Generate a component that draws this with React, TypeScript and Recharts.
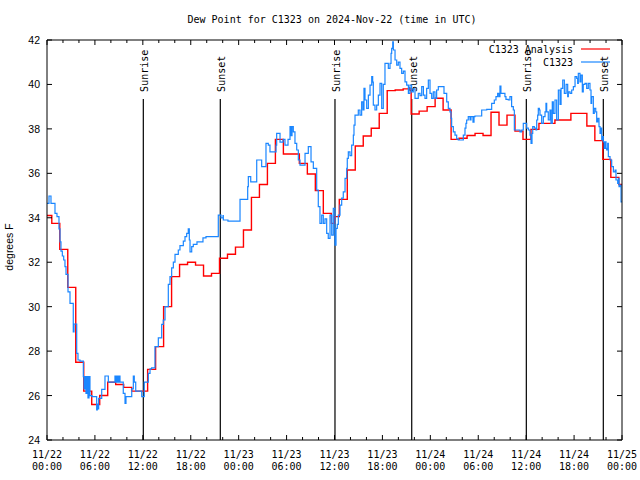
import React from 'react';
import { LineChart, Line, XAxis, YAxis, ReferenceLine } from 'recharts';

const MONO = '"DejaVu Sans Mono", monospace';
const SANS = '"Liberation Sans", Arial, sans-serif';

const titleText = 'Dew Point for C1323 on 2024-Nov-22 (time in UTC)';
const yLabel = 'degrees F';
const seriesNames = ['C1323 Analysis', 'C1323'];
const seriesColors = ['#ff0000', '#1a86ff'];

const yTicks = [24, 26, 28, 30, 32, 34, 36, 38, 40, 42];
const xTicks = [0, 2, 4, 6, 8, 10, 12, 14, 16, 18, 20, 22, 24, 26, 28, 30, 32, 34, 36, 38, 40, 42, 44, 46, 48, 50, 52, 54, 56, 58, 60, 62, 64, 66, 68, 70, 72];
const majorHours = [0, 6, 12, 18, 24, 30, 36, 42, 48, 54, 60, 66, 72];
const tickDates = ['11/22', '11/22', '11/22', '11/22', '11/23', '11/23', '11/23', '11/23', '11/24', '11/24', '11/24', '11/24', '11/25'];
const tickTimes = ['00:00', '06:00', '12:00', '18:00', '00:00', '06:00', '12:00', '18:00', '00:00', '06:00', '12:00', '18:00', '00:00'];

const sunHours = [12.06, 21.7, 36.06, 45.67, 60.02, 69.66];
const sunLabels = ['Sunrise', 'Sunset', 'Sunrise', 'Sunset', 'Sunrise', 'Sunset'];
const sunLineTop = 39.35;

// hourly analysis (step) values: [hour since 11/22 00:00, degF]
const analysis = [
  [0, 34.1], [0.6, 33.75], [1.6, 32.58], [2.6, 30.87], [3.6, 27.5], [4.6, 26.2], [5.6, 25.6], [6.6, 26.0],
  [7.6, 26.6], [8.6, 26.5], [9.6, 26.37], [10.6, 26.2], [12.6, 27.18], [13.6, 28.2], [14.6, 30.0], [15.6, 31.35],
  [16.6, 31.9], [17.6, 32.0], [18.6, 31.87], [19.6, 31.38], [20.6, 31.5], [21.6, 32.18], [22.6, 32.36], [23.6, 32.68],
  [24.6, 33.45], [25.6, 34.92], [26.6, 35.5], [27.6, 36.45], [28.6, 37.53], [29.6, 36.87], [31.6, 36.45], [32.6, 35.97],
  [33.6, 35.22], [34.6, 34.2], [35.6, 33.75], [36.0, 34.05], [36.6, 34.83], [37.6, 36.15], [38.6, 37.23], [39.6, 37.68],
  [40.6, 38.03], [41.6, 38.7], [42.6, 39.72], [43.6, 39.75], [44.6, 39.8], [45.6, 38.67], [46.6, 38.8], [47.6, 39.0],
  [48.6, 39.38], [49.6, 38.85], [50.6, 37.53], [51.6, 37.58], [52.6, 37.7], [53.6, 37.8], [54.6, 37.7], [55.6, 38.75],
  [56.6, 38.17], [57.6, 38.62], [58.6, 37.9], [59.6, 37.53], [60.6, 37.98], [61.6, 38.25], [63.6, 38.4], [65.6, 38.7],
  [67.6, 38.13], [68.6, 37.47], [69.6, 36.63], [70.6, 35.82], [71.6, 35.5], [72, 35.5],
];

// station observations
const obsDay1 = [
  [0, 34.65], [0.25, 34.98], [0.5, 34.65], [1.0, 34.2], [1.25, 34.05], [1.5, 33.5], [1.63, 32.92], [1.75, 32.5],
  [1.92, 32.28], [2.09, 32.1], [2.25, 31.8], [2.38, 31.45], [2.63, 30.67], [2.88, 30.15], [3.29, 28.87], [3.38, 29.22],
  [3.72, 27.9], [3.88, 27.6], [4.13, 27.55], [4.55, 26.85], [4.63, 26.3], [4.76, 26.85], [4.88, 26.1], [5.01, 26.85],
  [5.13, 25.9], [5.26, 26.85], [5.38, 26.0], [5.63, 25.95], [6.22, 25.35], [6.3, 25.6], [6.39, 25.4], [6.47, 25.87],
  [6.85, 26.28], [7.26, 26.88], [7.68, 26.6], [8.51, 26.88], [8.64, 26.6], [8.76, 26.88], [8.89, 26.6], [9.02, 26.88],
  [9.14, 26.6], [9.55, 26.1], [9.77, 25.65], [9.89, 25.95], [10.61, 26.3], [10.81, 26.88], [10.93, 26.6], [11.11, 26.2],
  [11.86, 25.95], [12.18, 26.6], [12.69, 27.0], [12.9, 27.2], [13.1, 27.25], [13.52, 28.2], [13.94, 28.6], [14.36, 29.2],
  [14.56, 29.4], [14.78, 30.0], [15.19, 31.0], [15.4, 31.35], [15.61, 31.75], [15.82, 32.0], [16.03, 32.35], [16.44, 32.55],
  [16.65, 32.75], [17.07, 32.95], [17.28, 33.15], [17.49, 33.3], [17.69, 33.5], [17.82, 33.0], [17.91, 32.47], [18.12, 32.7],
  [18.32, 32.8], [18.78, 32.92], [19.53, 33.1], [19.91, 33.15], [21.45, 34.12], [21.79, 34.0], [22.04, 34.1], [22.08, 33.9],
  [22.66, 33.85],
];
const obsDay2 = [
  [24.17, 34.83], [25.13, 35.4], [25.21, 35.85], [25.51, 35.62], [26.26, 36.6], [26.88, 36.3], [27.42, 37.35], [27.71, 37.27],
  [27.92, 36.97], [28.68, 37.27], [28.76, 37.8], [29.18, 37.4], [29.55, 37.53], [29.8, 37.27], [30.18, 37.53], [30.43, 38.1],
  [30.55, 37.7], [30.68, 38.1], [30.84, 37.87], [31.05, 37.35], [31.27, 37.05], [31.47, 36.6], [31.68, 36.37], [32.31, 36.9],
  [32.72, 37.2], [33.06, 36.52], [33.35, 36.22], [33.77, 35.25], [33.97, 34.5], [34.18, 33.75], [34.4, 34.12], [34.6, 33.75],
  [34.81, 33.95], [35.02, 33.3], [35.22, 33.07], [35.44, 34.12], [35.65, 33.22], [35.85, 34.42], [36.06, 32.77], [36.19, 33.52],
  [36.35, 33.7], [36.48, 34.12], [36.69, 34.57], [36.9, 34.88], [37.1, 35.17], [37.32, 35.77], [37.53, 36.22], [37.6, 36.67],
  [37.73, 36.97], [37.94, 36.8], [38.15, 37.27], [38.36, 37.72], [38.44, 38.17], [38.57, 38.62], [38.98, 38.85], [39.19, 38.62],
  [39.4, 39.22], [39.57, 38.85], [39.69, 39.82], [39.82, 39.3], [40.03, 38.92], [40.24, 39.52], [40.45, 39.97], [40.66, 40.35],
  [40.78, 40.1], [40.86, 39.07], [41.07, 38.85], [41.28, 39.07], [41.49, 39.52], [41.7, 40.05], [41.91, 38.92], [42.11, 40.0],
  [42.32, 40.95], [42.74, 40.72], [42.95, 40.95], [43.08, 41.4], [43.16, 41.62], [43.29, 41.92], [43.37, 41.55], [43.58, 41.1],
  [43.79, 40.87], [43.99, 41.0], [44.2, 40.72], [44.41, 40.5], [44.62, 40.6], [44.83, 40.12], [45.04, 39.97], [45.25, 39.6],
  [45.45, 39.97], [45.66, 39.67], [45.87, 39.8], [46.08, 39.37], [46.49, 39.6], [46.71, 39.5], [46.92, 39.9], [47.13, 39.52],
  [47.33, 39.37], [47.54, 39.82], [47.75, 40.2], [47.96, 39.6],
];
const obsDay3 = [
  [48.17, 39.37], [48.37, 39.67], [48.58, 39.37], [48.79, 39.75], [49.0, 39.9], [49.71, 39.6], [50.05, 39.22], [50.25, 38.92],
  [50.46, 38.77], [50.59, 38.47], [50.67, 38.1], [50.88, 37.87], [51.09, 37.72], [51.3, 37.55], [51.5, 37.5], [52.13, 37.72],
  [52.34, 38.03], [52.46, 38.25], [52.55, 38.4], [52.75, 38.55], [52.97, 38.4], [53.09, 38.55], [53.34, 38.3], [53.47, 38.55],
  [53.59, 38.58], [54.43, 38.85], [55.06, 38.88], [55.68, 39.15], [56.01, 39.3], [56.22, 39.45], [56.43, 39.6], [56.59, 39.45],
  [56.72, 39.93], [56.84, 39.6], [57.34, 39.45], [57.47, 39.33], [57.76, 39.3], [57.97, 39.45], [58.18, 39.0], [58.39, 38.85],
  [58.52, 37.95], [59.23, 37.87], [59.44, 37.95], [59.64, 38.25], [60.07, 38.03], [60.27, 37.95], [60.48, 37.72], [60.61, 37.35],
  [60.73, 37.8], [60.82, 38.1], [61.02, 38.03], [61.23, 37.95], [61.32, 38.4], [61.44, 38.62], [61.52, 38.92], [61.65, 38.85],
  [61.73, 38.62], [61.94, 38.25], [62.15, 38.55], [62.36, 38.77], [62.48, 39.15], [62.57, 38.77], [62.77, 38.4], [62.98, 38.85],
  [63.11, 38.25], [63.27, 39.22], [63.4, 38.7], [63.61, 39.3], [63.82, 38.4], [64.03, 39.75], [64.24, 39.1], [64.37, 39.82],
  [64.58, 40.2], [64.78, 39.6], [65.0, 40.0], [65.2, 39.45], [65.28, 39.67], [65.49, 39.6], [65.7, 39.75], [65.91, 39.9],
  [66.12, 40.35], [66.33, 40.27], [66.45, 40.05], [66.53, 40.5], [66.74, 40.12], [66.86, 40.42], [67.03, 39.67], [67.15, 40.0],
  [67.37, 40.05], [67.58, 39.82], [67.78, 40.05], [67.99, 39.75], [68.12, 39.15], [68.2, 39.45], [68.41, 38.7], [68.53, 38.92],
  [68.71, 38.77], [68.83, 38.32], [68.96, 38.47], [69.12, 38.1], [69.25, 37.8], [69.37, 38.03], [69.46, 37.5], [69.58, 37.65],
  [69.66, 37.42], [69.78, 37.12], [69.87, 37.42], [70.0, 37.12], [70.08, 37.05], [70.21, 37.35], [70.29, 36.75], [70.5, 36.6],
  [70.71, 36.3], [70.92, 36.07], [71.13, 36.15], [71.25, 35.7], [71.46, 35.55], [71.54, 35.77], [71.63, 35.4], [71.76, 35.47],
  [71.88, 34.72], [72.0, 34.72],
];

const analysisData = analysis.map(([t, v]) => ({ t, v }));
const obsData = [...obsDay1, ...obsDay2, ...obsDay3].map(([t, v]) => ({ t, v }));

const BottomTick = (props: any) => {
  const { x, y, payload } = props;
  const i = majorHours.indexOf(payload.value);
  const major = i >= 0;
  return (
    <g>
      <line x1={x} x2={x} y1={y} y2={y - (major ? 5 : 3)} stroke="#000" strokeWidth={1} />
      {major && (
        <text x={x} y={y + 18} textAnchor="middle" fontFamily={MONO} fontSize={10} fill="#000">{tickDates[i]}</text>
      )}
      {major && (
        <text x={x} y={y + 30} textAnchor="middle" fontFamily={MONO} fontSize={10} fill="#000">{tickTimes[i]}</text>
      )}
    </g>
  );
};

const TopTick = (props: any) => {
  const { x, y, payload } = props;
  const major = majorHours.indexOf(payload.value) >= 0;
  return <line x1={x} x2={x} y1={y} y2={y + (major ? 5 : 3)} stroke="#000" strokeWidth={1} />;
};

const LeftTick = (props: any) => {
  const { x, y, payload } = props;
  return (
    <g>
      <line x1={x} x2={x + 5} y1={y} y2={y} stroke="#000" strokeWidth={1} />
      <text x={x - 7} y={y + 4} textAnchor="end" fontFamily={SANS} fontSize={10.5} fill="#000">{payload.value}</text>
    </g>
  );
};

const RightTick = (props: any) => {
  const { x, y } = props;
  return <line x1={x} x2={x - 5} y1={y} y2={y} stroke="#000" strokeWidth={1} />;
};

const makeSunShape = (label: string) => (p: any) => {
  const { x1, y1, x2, y2 } = p;
  const top = Math.min(y1, y2);
  return (
    <g>
      <line x1={x1} y1={y1} x2={x2} y2={y2} stroke="#000" strokeWidth={1.2} />
      <text
        transform={`translate(${x1 + 5},${top - 7}) rotate(-90)`}
        textAnchor="start"
        fontFamily={MONO}
        fontSize={10}
        fill="#000"
      >
        {label}
      </text>
    </g>
  );
};

export default function App() {
  return (
    <div style={{ position: 'absolute', left: 0, top: 0, width: 640, height: 480, background: '#fff' }}>
      <LineChart width={640} height={480} margin={{ top: 20, right: 8, bottom: 0, left: 7 }}>
        <XAxis
          xAxisId="b"
          dataKey="t"
          type="number"
          domain={[0, 72]}
          ticks={xTicks}
          interval={0}
          allowDataOverflow
          height={40}
          tickSize={0}
          tickMargin={0}
          tickLine={false}
          axisLine={{ stroke: '#000', strokeWidth: 1 }}
          tick={<BottomTick />}
          orientation="bottom"
        />
        <XAxis
          xAxisId="top"
          dataKey="t"
          type="number"
          domain={[0, 72]}
          ticks={xTicks}
          interval={0}
          allowDataOverflow
          height={20}
          tickSize={0}
          tickMargin={0}
          tickLine={false}
          axisLine={{ stroke: '#000', strokeWidth: 1 }}
          tick={<TopTick />}
          orientation="top"
        />
        <YAxis
          yAxisId="l"
          type="number"
          domain={[24, 42]}
          ticks={yTicks}
          interval={0}
          allowDataOverflow
          width={40}
          tickSize={0}
          tickMargin={0}
          tickLine={false}
          axisLine={{ stroke: '#000', strokeWidth: 1 }}
          tick={<LeftTick />}
          orientation="left"
        />
        <YAxis
          yAxisId="r"
          type="number"
          domain={[24, 42]}
          ticks={yTicks}
          interval={0}
          allowDataOverflow
          width={10}
          tickSize={0}
          tickMargin={0}
          tickLine={false}
          axisLine={{ stroke: '#000', strokeWidth: 1 }}
          tick={<RightTick />}
          orientation="right"
        />
        {sunHours.map((h, i) => (
          <ReferenceLine
            key={'sun' + i}
            xAxisId="b"
            yAxisId="l"
            segment={[{ x: h, y: 24 }, { x: h, y: sunLineTop }]}
            shape={makeSunShape(sunLabels[i])}
          />
        ))}
        <Line
          xAxisId="b"
          yAxisId="l"
          data={analysisData}
          dataKey="v"
          type="stepAfter"
          stroke={seriesColors[0]}
          strokeWidth={1.4}
          dot={false}
          activeDot={false}
          isAnimationActive={false}
        />
        <Line
          xAxisId="b"
          yAxisId="l"
          data={obsData}
          dataKey="v"
          type="stepAfter"
          stroke={seriesColors[1]}
          strokeWidth={1.2}
          dot={false}
          activeDot={false}
          isAnimationActive={false}
        />
        <text x={332} y={23} textAnchor="middle" fontFamily={MONO} fontSize={10} fill="#000">{titleText}</text>
        <text transform="translate(13,247) rotate(-90)" textAnchor="middle" fontFamily={SANS} fontSize={10.5} fill="#000">{yLabel}</text>
        <text x={573} y={53} textAnchor="end" fontFamily={MONO} fontSize={10} fill="#000">{seriesNames[0]}</text>
        <line x1={581} x2={610} y1={49} y2={49} stroke={seriesColors[0]} strokeWidth={1.2} />
        <text x={573} y={66} textAnchor="end" fontFamily={MONO} fontSize={10} fill="#000">{seriesNames[1]}</text>
        <line x1={581} x2={610} y1={62} y2={62} stroke={seriesColors[1]} strokeWidth={1.2} />
      </LineChart>
    </div>
  );
}
